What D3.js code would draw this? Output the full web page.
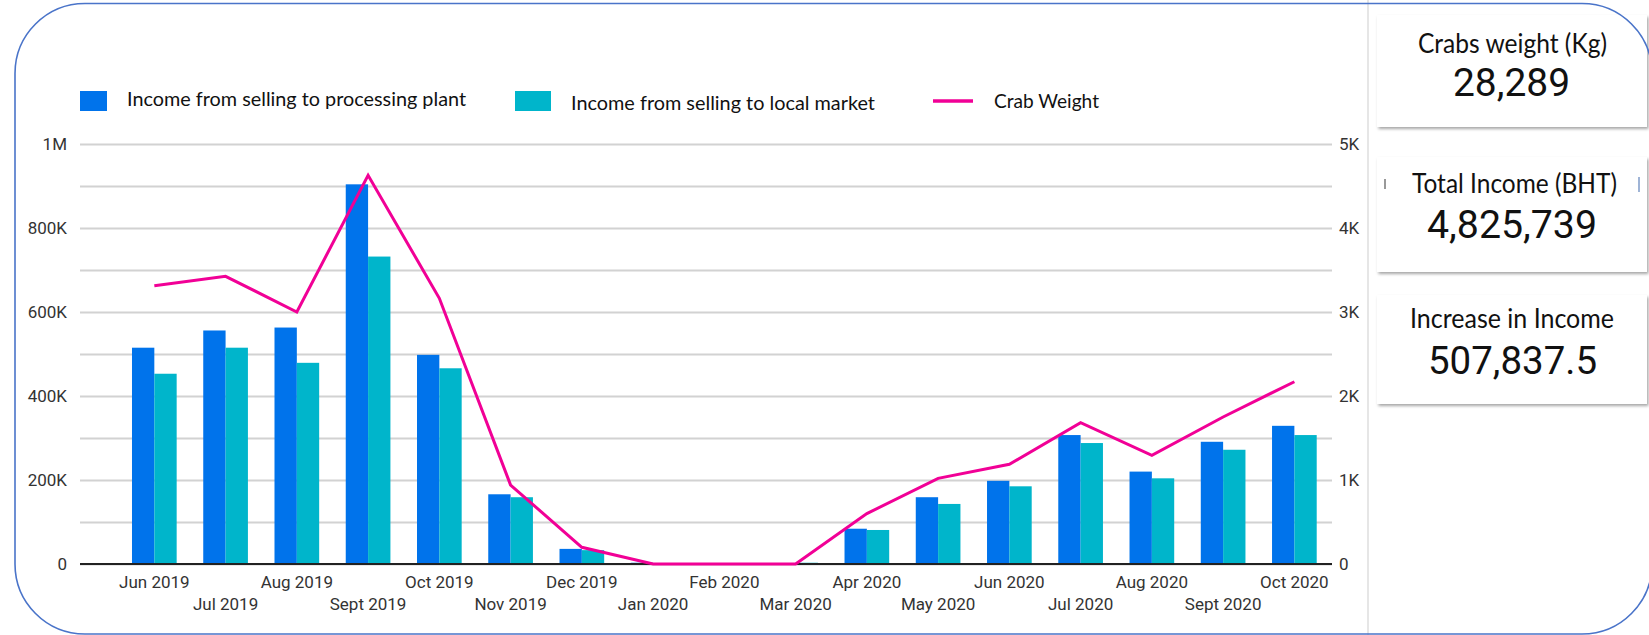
<!DOCTYPE html>
<html>
<head>
<meta charset="utf-8">
<script src="https://cdn.jsdelivr.net/npm/d3@7"></script>
<style>
  body { margin: 0; background: #fff; }
  svg { display: block; }
</style>
</head>
<body>
<div id="chart"></div>
<script>
const months = ["Jun 2019", "Jul 2019", "Aug 2019", "Sept 2019", "Oct 2019", "Nov 2019", "Dec 2019",
  "Jan 2020", "Feb 2020", "Mar 2020", "Apr 2020", "May 2020", "Jun 2020", "Jul 2020", "Aug 2020",
  "Sept 2020", "Oct 2020"];
const plantIncome = [515000, 556000, 563000, 904000, 498000, 166000, 36000, 3000, 0, 0,
  84000, 159000, 198000, 307000, 220000, 291000, 329000];
const localIncome = [453000, 515000, 479000, 732000, 466000, 159000, 33000, 1000, 0, 3000,
  81000, 143000, 185000, 288000, 204000, 272000, 307000];
const crabWeight = [3313, 3425, 3000, 4627, 3163, 940, 199, 0, 0, 0,
  600, 1020, 1187, 1682, 1294, 1750, 2170];

const leftTicks = [0, 200000, 400000, 600000, 800000, 1000000];
const leftLabels = ["0", "200K", "400K", "600K", "800K", "1M"];
const rightTicks = [0, 1000, 2000, 3000, 4000, 5000];
const rightLabels = ["0", "1K", "2K", "3K", "4K", "5K"];
const gridTicks = [0, 100000, 200000, 300000, 400000, 500000, 600000, 700000, 800000, 900000, 1000000];

const seriesNames = ["Income from selling to processing plant", "Income from selling to local market", "Crab Weight"];
const colors = ["#0073eb", "#00b5cb", "#f10096"];

const cardTitles = ["Crabs weight (Kg)", "Total Income (BHT)", "Increase in Income"];
const cardValues = ["28,289", "4,825,739", "507,837.5"];

const W = 1649, H = 635;
const plotLeft = 80, plotRight = 1332, plotTop = 144, plotBottom = 564;

const svg = d3.select("#chart").append("svg")
  .attr("width", W).attr("height", H)
  .style("font-family", "Roboto, sans-serif");

const defs = svg.append("defs");
defs.append("filter").attr("id", "shadow")
  .attr("x", "-5%").attr("y", "-5%").attr("width", "112%").attr("height", "120%")
  .append("feDropShadow")
  .attr("dx", 1.5).attr("dy", 2).attr("stdDeviation", 1.5)
  .attr("flood-color", "#000").attr("flood-opacity", 0.35);

// scales
const x0 = d3.scaleBand().domain(months).range([118.7, 1330])
  .paddingInner(0.373).paddingOuter(0.1865);
const x1 = d3.scaleBand().domain([0, 1]).range([0, x0.bandwidth()]);
const yL = d3.scaleLinear().domain([0, 1000000]).range([plotBottom, plotTop]);
const yR = d3.scaleLinear().domain([0, 5000]).range([plotBottom, plotTop]);

// gridlines
svg.append("g")
  .attr("transform", `translate(${plotLeft},0)`)
  .call(d3.axisLeft(yL).tickValues(gridTicks).tickSize(-(plotRight - plotLeft)).tickFormat(""))
  .call(g => g.select(".domain").remove())
  .call(g => g.selectAll("line").attr("stroke", "#d2d2d2").attr("stroke-width", 2));

// left axis labels
svg.append("g")
  .attr("transform", `translate(${plotLeft},0)`)
  .call(d3.axisLeft(yL).tickValues(leftTicks).tickSize(0).tickPadding(13)
    .tickFormat((d, i) => leftLabels[i]))
  .call(g => g.select(".domain").remove())
  .call(g => g.selectAll("text").attr("fill", "#333").style("font-size", "17px").style("font-family", "Roboto"));

// right axis labels
svg.append("g")
  .attr("transform", `translate(${plotRight},0)`)
  .call(d3.axisRight(yR).tickValues(rightTicks).tickSize(0).tickPadding(7)
    .tickFormat((d, i) => rightLabels[i]))
  .call(g => g.select(".domain").remove())
  .call(g => g.selectAll("text").attr("fill", "#333").style("font-size", "17px").style("font-family", "Roboto"));

// bars
const barData = months.map((m, i) => ({ m, vals: [plantIncome[i], localIncome[i]] }));
svg.append("g").selectAll("g")
  .data(barData)
  .join("g")
  .attr("transform", d => `translate(${x0(d.m)},0)`)
  .selectAll("rect")
  .data(d => d.vals.map((v, k) => ({ k, v })))
  .join("rect")
  .attr("x", d => x1(d.k))
  .attr("width", x1.bandwidth())
  .attr("y", d => yL(d.v))
  .attr("height", d => plotBottom - yL(d.v))
  .attr("fill", d => colors[d.k]);

// baseline
svg.append("line")
  .attr("x1", plotLeft).attr("x2", plotRight)
  .attr("y1", yL(0)).attr("y2", yL(0))
  .attr("stroke", "#222").attr("stroke-width", 2);

// x labels, alternating rows
svg.append("g").selectAll("text")
  .data(months)
  .join("text")
  .attr("x", d => x0(d) + x0.bandwidth() / 2)
  .attr("y", (d, i) => i % 2 === 0 ? 588 : 610)
  .attr("text-anchor", "middle")
  .attr("fill", "#333")
  .style("font-size", "17px")
  .text(d => d);

// crab weight line
const line = d3.line()
  .x((d, i) => x0(months[i]) + x0.bandwidth() / 2)
  .y(d => yR(d));
svg.append("path")
  .datum(crabWeight)
  .attr("d", line)
  .attr("fill", "none")
  .attr("stroke", colors[2])
  .attr("stroke-width", 3);

// legend
const legend = svg.append("g").style("font-family", "Lato, 'Open Sans', sans-serif").style("font-size", "19px");
legend.append("rect").attr("x", 80).attr("y", 91).attr("width", 27).attr("height", 20).attr("fill", colors[0]);
legend.append("text").attr("x", 127).attr("y", 106).attr("fill", "#111")
  .attr("textLength", 339).attr("lengthAdjust", "spacingAndGlyphs").text(seriesNames[0]);
legend.append("rect").attr("x", 515).attr("y", 91).attr("width", 36).attr("height", 20).attr("fill", colors[1]);
legend.append("text").attr("x", 571).attr("y", 110).attr("fill", "#111")
  .attr("textLength", 304).attr("lengthAdjust", "spacingAndGlyphs").text(seriesNames[1]);
legend.append("line").attr("x1", 933).attr("x2", 973).attr("y1", 101).attr("y2", 101)
  .attr("stroke", colors[2]).attr("stroke-width", 3.5);
legend.append("text").attr("x", 994).attr("y", 108).attr("fill", "#111")
  .attr("textLength", 105).attr("lengthAdjust", "spacingAndGlyphs").text(seriesNames[2]);

// divider
svg.append("line").attr("x1", 1368).attr("x2", 1368).attr("y1", 0).attr("y2", H)
  .attr("stroke", "#e6e6e6").attr("stroke-width", 2);

// score cards
const cards = [
  { top: 15, bottom: 127, titleY: 53, titleX0: 1418, titleW: 189, valY: 96, valX0: 1453, valW: 117 },
  { top: 157, bottom: 272, titleY: 193, titleX0: 1412, titleW: 205, valY: 238, valX0: 1427, valW: 170 },
  { top: 295, bottom: 404, titleY: 328, titleX0: 1410, titleW: 204, valY: 374, valX0: 1428, valW: 169 }
];
const cardG = svg.append("g").selectAll("g").data(cards).join("g");
cardG.append("rect")
  .attr("x", 1377).attr("y", d => d.top)
  .attr("width", 270).attr("height", d => d.bottom - d.top)
  .attr("fill", "#fff").attr("filter", "url(#shadow)");
cardG.append("text")
  .attr("x", d => d.titleX0).attr("y", d => d.titleY)
  .attr("textLength", d => d.titleW).attr("lengthAdjust", "spacingAndGlyphs")
  .attr("fill", "#111")
  .style("font-family", "Lato, 'Open Sans', sans-serif").style("font-size", "26px")
  .text((d, i) => cardTitles[i]);
cardG.append("text")
  .attr("x", d => d.valX0).attr("y", d => d.valY)
  .attr("textLength", d => d.valW).attr("lengthAdjust", "spacingAndGlyphs")
  .attr("fill", "#111")
  .style("font-family", "Roboto, sans-serif").style("font-size", "38px")
  .text((d, i) => cardValues[i]);
// small cropped marks in the second card
svg.append("rect").attr("x", 1384).attr("y", 179).attr("width", 2).attr("height", 10).attr("fill", "#999");
svg.append("rect").attr("x", 1638).attr("y", 177).attr("width", 2).attr("height", 15).attr("fill", "#9fb4d6");

// outer rounded frame
svg.append("rect")
  .attr("x", 15).attr("y", 3.5)
  .attr("width", 1637).attr("height", 630.5)
  .attr("rx", 70).attr("ry", 70)
  .attr("fill", "none").attr("stroke", "#4a74c9").attr("stroke-width", 1.6);
</script>
</body>
</html>
